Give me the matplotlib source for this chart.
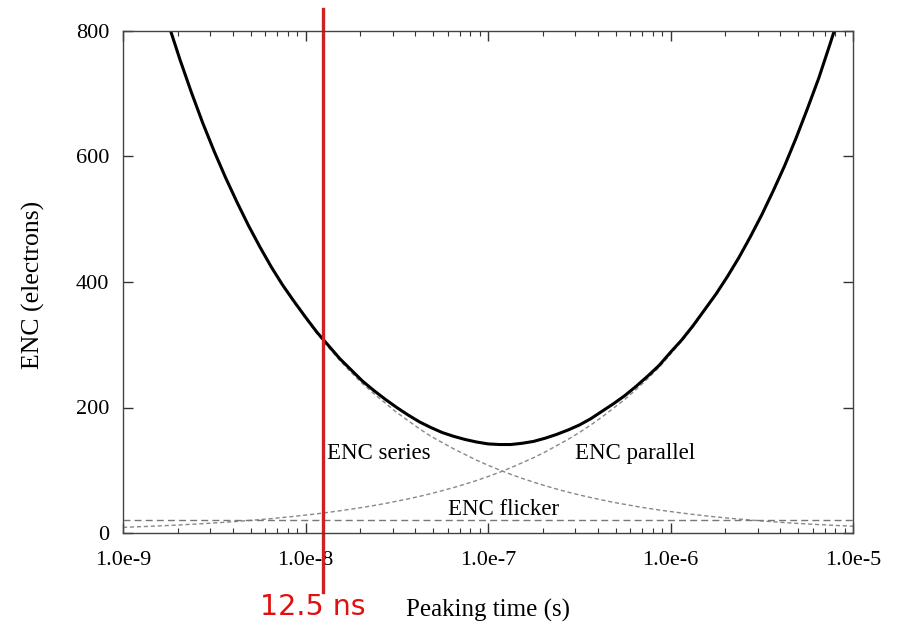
"""ENC vs. peaking time plot."""
import matplotlib
matplotlib.use('Agg')
import matplotlib.pyplot as plt

# Peaking times sampled every 1/16 decade, 1e-9 .. 1e-5 s
peaking_time = [
    1.000e-9, 1.155e-9, 1.334e-9, 1.540e-9, 1.778e-9, 2.054e-9, 2.371e-9, 2.738e-9,
    3.162e-9, 3.652e-9, 4.217e-9, 4.870e-9, 5.623e-9, 6.494e-9, 7.499e-9, 8.660e-9,
    1.000e-8, 1.155e-8, 1.334e-8, 1.540e-8, 1.778e-8, 2.054e-8, 2.371e-8, 2.738e-8,
    3.162e-8, 3.652e-8, 4.217e-8, 4.870e-8, 5.623e-8, 6.494e-8, 7.499e-8, 8.660e-8,
    1.000e-7, 1.155e-7, 1.334e-7, 1.540e-7, 1.778e-7, 2.054e-7, 2.371e-7, 2.738e-7,
    3.162e-7, 3.652e-7, 4.217e-7, 4.870e-7, 5.623e-7, 6.494e-7, 7.499e-7, 8.660e-7,
    1.000e-6, 1.155e-6, 1.334e-6, 1.540e-6, 1.778e-6, 2.054e-6, 2.371e-6, 2.738e-6,
    3.162e-6, 3.652e-6, 4.217e-6, 4.870e-6, 5.623e-6, 6.494e-6, 7.499e-6, 8.660e-6,
    1.000e-5,
]
enc_total = [
    1080, 1005, 935, 870, 810, 754, 702, 653,
    608, 566, 527, 490, 456, 424, 395, 369,
    344, 320, 299, 278, 260, 242, 227, 213,
    200, 188, 177, 168, 160, 154, 149, 145,
    142, 141, 141, 143, 146, 151, 157, 164,
    172, 182, 194, 206, 219, 234, 250, 267,
    288, 308, 331, 356, 381, 409, 439, 472,
    507, 545, 585, 629, 676, 725, 780, 837,
    900,
]
enc_series = [
    1080, 1005, 935, 870, 810, 754, 701, 652,
    607, 565, 526, 489, 455, 423, 394, 367,
    342, 318, 296, 275, 256, 238, 222, 207,
    192, 179, 166, 154, 144, 134, 125, 116,
    108, 100.5, 93.5, 87.0, 81.0, 75.4, 70.1, 65.2,
    60.7, 56.5, 52.6, 48.9, 45.6, 42.4, 39.4, 36.7,
    34.2, 31.8, 29.6, 27.5, 25.6, 23.8, 22.2, 20.7,
    19.2, 17.9, 16.6, 15.4, 14.4, 13.4, 12.5, 11.6,
    10.8,
]
enc_parallel = [
    9.0, 9.7, 10.4, 11.2, 12.0, 12.9, 13.9, 14.9,
    16.0, 17.2, 18.5, 19.9, 21.3, 22.9, 24.7, 26.5,
    28.5, 30.6, 32.9, 35.4, 38.0, 40.8, 43.8, 47.1,
    50.6, 54.4, 58.4, 62.8, 67.5, 72.5, 77.9, 83.7,
    90.0, 96.7, 104, 112, 120, 129, 139, 149,
    160, 172, 185, 199, 213, 229, 246, 264,
    285, 306, 329, 354, 380, 408, 438, 471,
    506, 544, 584, 628, 675, 725, 779, 837,
    900,
]
enc_flicker = 21

x_ticks = [1e-9, 1e-8, 1e-7, 1e-6, 1e-5]
x_tick_labels = ['1.0e-9', '1.0e-8', '1.0e-7', '1.0e-6', '1.0e-5']
y_ticks = [0, 200, 400, 600, 800]
marker_time = 12.5e-9

serif = ['Liberation Serif', 'DejaVu Serif']

fig = plt.figure(figsize=(8.97, 6.25), dpi=100)
ax = fig.add_axes([123 / 897, 1 - 533 / 625, 730 / 897, 502 / 625])

ax.plot(peaking_time, enc_series, color='#888888', lw=1.0, ls=(0, (3, 2)))
ax.plot(peaking_time, enc_parallel, color='#888888', lw=1.0, ls=(0, (3, 2)))
ax.plot([peaking_time[0], peaking_time[-1]], [enc_flicker, enc_flicker],
        color='#777777', lw=1.0, ls=(0, (5, 3)))
ax.plot(peaking_time, enc_total, color='black', lw=2.2)

ax.set_xscale('log')
ax.set_xlim(1e-9, 1e-5)
ax.set_ylim(0, 800)
ax.set_xticks(x_ticks)
ax.set_xticklabels(x_tick_labels)
ax.set_yticks(y_ticks)

for lab in ax.get_xticklabels() + ax.get_yticklabels():
    lab.set_family(serif)
    lab.set_fontsize(16)

ax.tick_params(which='both', direction='in', top=True, right=True, color='#333333')
ax.tick_params(which='major', length=7, width=1.0)
ax.tick_params(which='minor', length=3.5, width=0.8)
ax.tick_params(axis='x', which='major', pad=13)
ax.tick_params(axis='y', which='major', pad=10)
for s in ax.spines.values():
    s.set_color('#444444')
    s.set_linewidth(1.0)

# Popisky křivek
ax.text(1.31e-8, 127, 'ENC series', family=serif, fontsize=16.5, va='center')
ax.text(3.0e-7, 127, 'ENC parallel', family=serif, fontsize=16.5, va='center')
ax.text(6.0e-8, 38, 'ENC flicker', family=serif, fontsize=16.5, va='center')

# Červená značka 12.5 ns
ax.axvline(marker_time, ymin=-0.1175, ymax=1.044, color='#cc2222', lw=2.4,
           clip_on=False)
fig.text(313 / 897, 1 - 607 / 625, '12.5 ns', color='#e01010', fontsize=20.5,
         family='DejaVu Sans', ha='center', va='center')

fig.text(488 / 897, 1 - 610 / 625, 'Peaking time (s)', family=serif,
         fontsize=18, ha='center', va='center')
fig.text(33 / 897, 1 - 285 / 625, 'ENC (electrons)', family=serif,
         fontsize=18.5, ha='center', va='center', rotation=90)

fig.savefig('out.png', dpi=100)
